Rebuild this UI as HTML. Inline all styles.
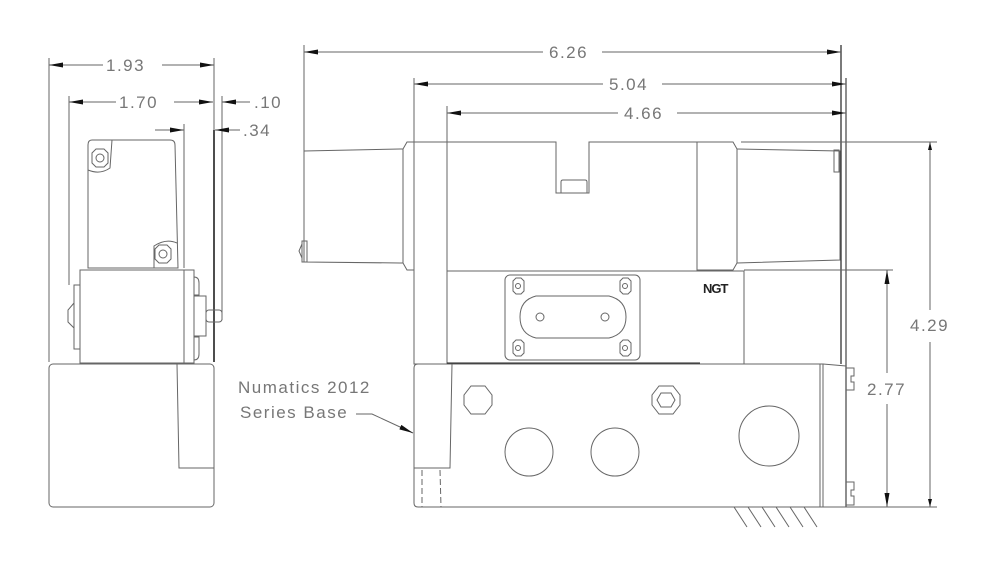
<!DOCTYPE html>
<html><head><meta charset="utf-8"><style>
html,body{margin:0;padding:0;background:#fff;}
svg{display:block;}
text{font-family:"Liberation Sans",sans-serif;fill:#777;font-size:17px;letter-spacing:1.5px;}
</style></head><body>
<svg width="1000" height="580" viewBox="0 0 1000 580" xmlns="http://www.w3.org/2000/svg">
<defs>
<marker id="a" viewBox="0 0 14 6" refX="14" refY="3" markerWidth="14" markerHeight="6" orient="auto" markerUnits="userSpaceOnUse"><path d="M0,0.5 L14,3 L0,5.5 Z" fill="#111"/></marker>
<marker id="s" viewBox="0 0 8 4" refX="8" refY="2" markerWidth="8" markerHeight="4" orient="auto" markerUnits="userSpaceOnUse"><path d="M0,0 L8,2 L0,4 Z" fill="#111"/></marker>
</defs>
<g fill="none" stroke="#666" stroke-width="1">
<line x1="49" y1="58" x2="49" y2="362"/>
<line x1="214" y1="58" x2="214" y2="130"/>
<line x1="103" y1="65" x2="49" y2="65" marker-end="url(#a)"/>
<line x1="162" y1="65" x2="214" y2="65" marker-end="url(#a)"/>
<line x1="69" y1="96" x2="69" y2="285"/>
<line x1="116" y1="102" x2="69" y2="102" marker-end="url(#a)"/>
<line x1="174" y1="102" x2="213" y2="102" marker-end="url(#a)"/>
<line x1="222" y1="96" x2="222" y2="320"/>
<line x1="250" y1="102" x2="222" y2="102" marker-end="url(#a)"/>
<line x1="155" y1="130" x2="184" y2="130" marker-end="url(#a)"/>
<line x1="184" y1="124" x2="184" y2="268"/>
<line x1="240" y1="130" x2="215" y2="130" marker-end="url(#a)"/>
<line x1="214" y1="130" x2="214" y2="362" stroke="#222" stroke-width="1.6"/>
<path d="M92,140 L170,140 Q175,140 175,145 L178,268 L88,268 L88,145 Q88,140 92,140 Z"/>
<path d="M88,170 Q100,175 110,168 L112,140"/>
<polygon points="92,153 96,149 104,149 108,153 108,163 104,167 96,167 92,163"/>
<circle cx="100" cy="158" r="4"/>
<path d="M154,268 L154,246 Q166,238 177,243"/>
<polygon points="155,249 159,245 167,245 171,249 171,259 167,263 159,263 155,259"/>
<circle cx="163" cy="254" r="4"/>
<rect x="80" y="270" width="104" height="93"/>
<rect x="74" y="285" width="6" height="64"/>
<path d="M74,303 L68,310 L68,322 L74,328"/>
<rect x="184" y="270" width="10" height="93"/>
<path d="M194,277 Q199,277 199,283 L199,295 L194,295"/>
<path d="M194,337 L199,337 L199,354 Q199,360 194,360"/>
<rect x="194" y="296" width="12" height="40"/>
<rect x="206" y="310" width="16" height="12" rx="3"/>
<rect x="49" y="364" width="165" height="143" rx="4"/>
<polyline points="177,364 179,468 214,468"/>

<line x1="304" y1="45" x2="304" y2="240"/>
<line x1="841" y1="45" x2="841" y2="364" stroke="#333" stroke-width="1.3"/>
<line x1="846" y1="78" x2="846" y2="507" stroke="#444" stroke-width="1.2"/>
<line x1="543" y1="52" x2="304" y2="52" marker-end="url(#a)"/>
<line x1="602" y1="52" x2="841" y2="52" marker-end="url(#a)"/>
<line x1="414" y1="78" x2="414" y2="142"/>
<line x1="603" y1="84" x2="414" y2="84" marker-end="url(#a)"/>
<line x1="662" y1="84" x2="846" y2="84" marker-end="url(#a)"/>
<line x1="447" y1="106" x2="447" y2="142"/>
<line x1="618" y1="113" x2="447" y2="113" marker-end="url(#a)"/>
<line x1="677" y1="113" x2="846" y2="113" marker-end="url(#a)"/>
<line x1="741" y1="142" x2="937" y2="142"/>
<line x1="930" y1="310" x2="930" y2="142" marker-end="url(#s)"/>
<line x1="930" y1="342" x2="930" y2="507" marker-end="url(#s)"/>
<line x1="744" y1="270" x2="893" y2="270"/>
<line x1="887" y1="373" x2="887" y2="270" marker-end="url(#a)"/>
<line x1="887" y1="404" x2="887" y2="507" marker-end="url(#a)"/>
<line x1="823" y1="507" x2="937" y2="507"/>

<path d="M304,151 L400,149 L403,149 L403,263 L400,263 L304,262 Z"/>
<path d="M403,149 L407,142 L414,142 M403,263 L407,270 L414,270"/>
<rect x="302" y="241" width="5" height="21"/>
<path d="M302,244 L299,251 L302,258"/>
<rect x="414" y="142" width="33" height="222"/>
<path d="M447,142 L556,142 L556,193 L589,193 L589,142 L697,142 L697,271 L447,271"/>
<path d="M561,193 L561,182 Q561,180 563,180 L585,180 Q587,180 587,182 L587,193"/>
<path d="M697,142 L733,142 L737,149 L737,263 L733,270 L697,270"/>
<path d="M737,149 L840,151 L840,260 L737,263"/>
<rect x="834" y="150" width="5" height="22"/>
<rect x="447" y="271" width="297" height="93"/>
<line x1="447" y1="363" x2="700" y2="363" stroke="#222"/>
<rect x="505" y="275" width="135" height="85" rx="5"/>
<polygon points="513,281 516,278 521,278 524,281 524,291 521,294 516,294 513,291"/>
<circle cx="518" cy="286" r="2.5"/>
<polygon points="620,281 623,278 628,278 631,281 631,291 628,294 623,294 620,291"/>
<circle cx="625" cy="286" r="2.5"/>
<polygon points="513,343 516,340 521,340 524,343 524,353 521,356 516,356 513,353"/>
<circle cx="518" cy="348" r="2.5"/>
<polygon points="620,343 623,340 628,340 631,343 631,353 628,356 623,356 620,353"/>
<circle cx="625" cy="348" r="2.5"/>
<path d="M536,296 L609,296 Q626,300 626,317 Q626,334 609,338 L536,338 Q520,334 520,317 Q520,300 536,296 Z"/>
<circle cx="540" cy="317" r="4"/>
<circle cx="605" cy="317" r="4"/>
<path d="M418,364 L823,364 L823,507 L418,507 Q414,507 414,503 L414,368 Q414,364 418,364 Z"/>
<polyline points="452,364 450,468 414,468"/>
<line x1="422" y1="470" x2="422" y2="507" stroke-dasharray="6,3"/>
<line x1="440" y1="470" x2="441" y2="507" stroke-dasharray="6,3"/>
<line x1="820" y1="364" x2="820" y2="507"/>
<path d="M823,364 L846,366"/>
<path d="M846,368 L854,368 L854,376 L851,376 L851,382 L854,382 L854,390 L846,390"/>
<path d="M846,482 L854,482 L854,490 L851,490 L851,496 L854,496 L854,505 L846,505"/>
<polygon points="471,386 485,386 492,395 492,405 485,414 471,414 464,405 464,395"/>
<polygon points="659,386 673,386 680,395 680,405 673,414 659,414 652,405 652,395"/>
<polygon points="661,393 671,393 675,400 671,407 661,407 657,400"/>
<circle cx="529" cy="452" r="24"/>
<circle cx="615" cy="452" r="24"/>
<circle cx="769" cy="436" r="30"/>
<line x1="734" y1="507" x2="747" y2="527"/>
<line x1="748" y1="507" x2="761" y2="527"/>
<line x1="762" y1="507" x2="775" y2="527"/>
<line x1="776" y1="507" x2="789" y2="527"/>
<line x1="790" y1="507" x2="803" y2="527"/>
<line x1="804" y1="507" x2="817" y2="527"/>
<polyline points="356,414 372,414 413,433" marker-end="url(#a)"/>
</g>
<text x="106" y="71">1.93</text>
<text x="119" y="108">1.70</text>
<text x="254" y="108">.10</text>
<text x="243" y="136">.34</text>
<text x="549" y="58">6.26</text>
<text x="609" y="90">5.04</text>
<text x="624" y="119">4.66</text>
<text x="910" y="331">4.29</text>
<text x="867" y="395">2.77</text>
<text x="238" y="393">Numatics 2012</text>
<text x="240" y="418">Series Base</text>
<text x="703" y="293" style="font-size:13px;font-weight:bold;fill:#222;letter-spacing:-1px">NGT</text>
</svg>
</body></html>
